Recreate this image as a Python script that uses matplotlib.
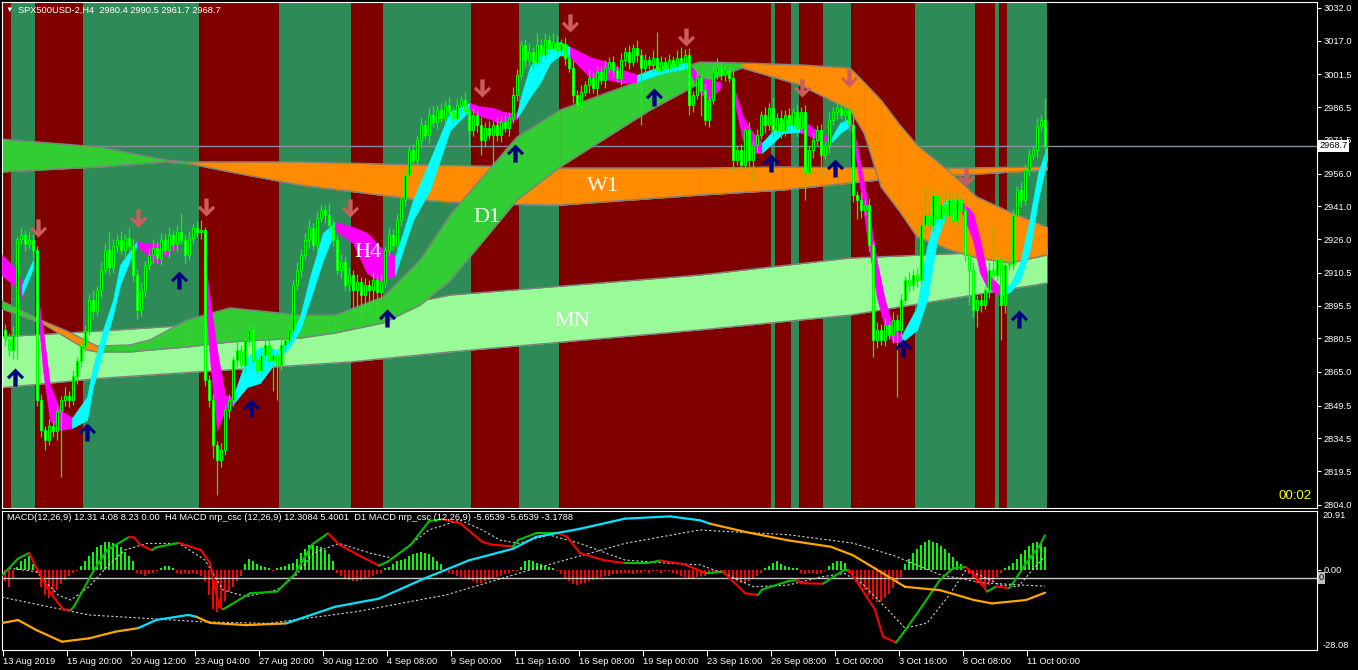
import numpy as np
import matplotlib
matplotlib.use("Agg")
import matplotlib.pyplot as plt
from matplotlib.path import Path
from matplotlib.transforms import blended_transform_factory


#######################################################
### Data (x = H4 bar index, 0 = 13 Aug 2019)

opens = [
    2884.3, 2880.0, 2875.0, 2882.0, 2926.0, 2928.0, 2923.5, 2925.6, 2921.0, 2852.0,
    2838.4, 2834.0, 2840.0, 2838.0, 2847.0, 2852.0, 2854.0, 2852.0, 2863.0, 2870.0,
    2877.0, 2884.0, 2898.0, 2893.0, 2902.6, 2912.0, 2921.0, 2913.0, 2923.0, 2925.6,
    2921.0, 2926.5, 2923.0, 2909.6, 2893.4, 2902.6, 2914.0, 2918.7, 2922.0, 2917.3,
    2925.6, 2921.0, 2928.0, 2923.5, 2929.3, 2925.6, 2918.7, 2926.5, 2931.0, 2929.3,
    2930.0, 2861.3, 2852.0, 2831.5, 2824.6, 2829.0, 2847.6, 2852.0, 2870.5, 2875.0,
    2868.0, 2879.7, 2884.3, 2870.5, 2866.0, 2872.8, 2877.4, 2870.5, 2872.8, 2868.2,
    2877.4, 2879.7, 2884.3, 2905.0, 2911.8, 2918.7, 2925.6, 2931.0, 2923.3, 2935.7,
    2939.3, 2937.0, 2932.4, 2925.6, 2911.8, 2915.5, 2905.0, 2909.6, 2902.6, 2906.3,
    2900.3, 2905.0, 2902.6, 2907.2, 2901.7, 2906.3, 2921.0, 2928.0, 2923.3, 2934.7,
    2944.0, 2955.4, 2966.8, 2962.3, 2971.4, 2978.3, 2973.7, 2982.9, 2979.7, 2985.2,
    2981.6, 2987.5, 2984.3, 2981.6, 2987.5, 2989.8, 2985.2, 2976.0, 2982.9, 2978.3,
    2971.4, 2977.0, 2973.7, 2978.3, 2973.7, 2979.7, 2977.0, 2981.6, 2992.1, 3001.3,
    3015.0, 3008.0, 3011.8, 3007.2, 3015.0, 3010.5, 3017.3, 3013.7, 3016.4, 3012.7,
    3015.5, 3009.0, 3004.5, 2992.1, 2987.5, 2993.5, 2996.7, 3000.0, 2995.3, 3002.7,
    2999.0, 3004.5, 3007.2, 3003.5, 3000.0, 3008.0, 3011.8, 3007.2, 3013.7, 3010.5,
    3004.5, 3008.0, 3005.9, 3009.1, 3003.5, 3007.2, 3004.5, 3008.0, 3005.4, 3009.1,
    3007.2, 3010.5, 2987.5, 2992.1, 3000.0, 2994.4, 2980.6, 2989.8, 3002.7, 3004.5,
    3001.3, 3003.5, 3000.0, 2962.3, 2966.8, 2960.0, 2976.0, 2962.3, 2969.0, 2973.7,
    2982.9, 2978.3, 2986.1, 2976.0, 2981.6, 2976.0, 2982.9, 2978.3, 2984.3, 2977.0,
    2984.3, 2956.8, 2966.8, 2971.4, 2976.0, 2964.5, 2969.0, 2980.6, 2984.3, 2986.1,
    2982.9, 2985.2, 2978.3, 2946.2, 2944.0, 2939.3, 2941.6, 2923.3, 2879.7, 2884.3,
    2879.7, 2886.6, 2882.0, 2888.9, 2884.3, 2898.0, 2907.2, 2905.0, 2909.6, 2907.2,
    2932.4, 2937.0, 2932.4, 2946.2, 2935.7, 2941.6, 2937.0, 2944.0, 2934.7, 2944.0,
    2939.3, 2918.7, 2911.8, 2893.4, 2898.0, 2895.7, 2902.6, 2911.8, 2909.6, 2916.4,
    2895.7, 2914.1, 2914.6, 2937.0, 2948.5, 2944.0, 2957.7, 2964.5, 2966.8, 2978.0,
    2980.4,
]

closes = [
    2880.0, 2875.0, 2882.0, 2926.0, 2928.0, 2923.5, 2925.6, 2921.0, 2852.0, 2838.4,
    2834.0, 2840.0, 2838.0, 2847.0, 2852.0, 2854.0, 2852.0, 2863.0, 2870.0, 2877.0,
    2884.0, 2898.0, 2893.0, 2902.6, 2912.0, 2921.0, 2913.0, 2923.0, 2925.6, 2921.0,
    2926.5, 2923.0, 2909.6, 2893.4, 2902.6, 2914.0, 2918.7, 2922.0, 2917.3, 2925.6,
    2921.0, 2928.0, 2923.5, 2929.3, 2925.6, 2918.7, 2926.5, 2931.0, 2929.3, 2930.0,
    2861.3, 2852.0, 2831.5, 2824.6, 2829.0, 2847.6, 2852.0, 2870.5, 2875.0, 2868.0,
    2879.7, 2884.3, 2870.5, 2866.0, 2872.8, 2877.4, 2870.5, 2872.8, 2868.2, 2877.4,
    2879.7, 2884.3, 2905.0, 2911.8, 2918.7, 2925.6, 2931.0, 2923.3, 2935.7, 2939.3,
    2937.0, 2932.4, 2925.6, 2911.8, 2915.5, 2905.0, 2909.6, 2902.6, 2906.3, 2900.3,
    2905.0, 2902.6, 2907.2, 2901.7, 2906.3, 2921.0, 2928.0, 2923.3, 2934.7, 2944.0,
    2955.4, 2966.8, 2962.3, 2971.4, 2978.3, 2973.7, 2982.9, 2979.7, 2985.2, 2981.6,
    2987.5, 2984.3, 2981.6, 2987.5, 2989.8, 2985.2, 2976.0, 2982.9, 2978.3, 2971.4,
    2977.0, 2973.7, 2978.3, 2973.7, 2979.7, 2977.0, 2981.6, 2992.1, 3001.3, 3015.0,
    3008.0, 3011.8, 3007.2, 3015.0, 3010.5, 3017.3, 3013.7, 3016.4, 3012.7, 3015.5,
    3009.0, 3004.5, 2992.1, 2987.5, 2993.5, 2996.7, 3000.0, 2995.3, 3002.7, 2999.0,
    3004.5, 3007.2, 3003.5, 3000.0, 3008.0, 3011.8, 3007.2, 3013.7, 3010.5, 3004.5,
    3008.0, 3005.9, 3009.1, 3003.5, 3007.2, 3004.5, 3008.0, 3005.4, 3009.1, 3007.2,
    3010.5, 2987.5, 2992.1, 3000.0, 2994.4, 2980.6, 2989.8, 3002.7, 3004.5, 3001.3,
    3003.5, 3000.0, 2962.3, 2966.8, 2960.0, 2976.0, 2962.3, 2969.0, 2973.7, 2982.9,
    2978.3, 2986.1, 2976.0, 2981.6, 2976.0, 2982.9, 2978.3, 2984.3, 2977.0, 2984.3,
    2956.8, 2966.8, 2971.4, 2976.0, 2964.5, 2969.0, 2980.6, 2984.3, 2986.1, 2982.9,
    2985.2, 2978.3, 2946.2, 2944.0, 2939.3, 2941.6, 2923.3, 2879.7, 2884.3, 2879.7,
    2886.6, 2882.0, 2888.9, 2884.3, 2898.0, 2907.2, 2905.0, 2909.6, 2907.2, 2932.4,
    2937.0, 2932.4, 2946.2, 2935.7, 2941.6, 2937.0, 2944.0, 2934.7, 2944.0, 2939.3,
    2918.7, 2911.8, 2893.4, 2898.0, 2895.7, 2902.6, 2911.8, 2909.6, 2916.4, 2895.7,
    2914.1, 2914.6, 2937.0, 2948.5, 2944.0, 2957.7, 2964.5, 2966.8, 2978.0, 2980.4,
    2968.7,
]

# wick length above / below the candle body
upper_wick = [
    2.5, 3.0, 4.0, 1.0, 3.5, 2.0, 4.0, 2.5, 2.0, 3.0,
    2.0, 3.5, 2.5, 3.0, 2.0, 4.0, 2.5, 3.0, 2.0, 3.5,
    2.5, 3.0, 4.5, 2.0, 3.5, 2.5, 8.2, 3.0, 2.5, 4.0,
    2.0, 4.5, 3.0, 2.5, 3.5, 2.0, 3.0, 4.0, 2.5, 3.0,
    2.5, 3.5, 2.0, 3.0, 8.7, 2.5, 3.0, 2.0, 3.5, 4.7,
    1.5, 2.5, 3.0, 2.0, 3.5, 2.5, 3.0, 2.0, 4.0, 2.5,
    3.0, 2.5, 3.5, 2.0, 3.0, 4.0, 2.5, 3.0, 2.0, 3.5,
    2.5, 3.0, 2.0, 3.5, 2.5, 3.0, 4.0, 2.5, 3.0, 3.0,
    2.5, 5.5, 3.0, 2.0, 3.5, 2.5, 3.0, 2.0, 3.5, 2.5,
    3.0, 2.0, 3.5, 2.5, 3.0, 2.0, 3.5, 2.5, 3.0, 2.0,
    3.5, 2.5, 3.0, 2.0, 3.5, 2.5, 3.0, 4.0, 2.5, 3.0,
    2.0, 3.5, 2.5, 3.0, 2.0, 3.5, 2.5, 3.0, 2.0, 3.5,
    2.5, 3.0, 2.0, 3.5, 2.5, 3.0, 2.0, 3.5, 2.5, 2.0,
    3.0, 4.0, 2.5, 5.5, 3.0, 3.0, 2.5, 4.0, 3.0, 2.5,
    3.0, 2.0, 3.5, 2.5, 3.0, 2.0, 3.5, 2.5, 3.0, 2.0,
    3.5, 2.5, 3.0, 2.0, 3.5, 2.5, 3.0, 2.0, 3.5, 2.5,
    3.0, 2.0, 3.5, 12.0, 3.0, 2.5, 3.0, 2.0, 3.5, 5.0,
    2.5, 3.0, 2.0, 3.5, 2.5, 3.0, 2.0, 3.5, 4.5, 2.5,
    3.0, 2.0, 3.5, 2.5, 3.0, 2.0, 3.5, 2.5, 3.0, 2.0,
    3.5, 2.5, 5.0, 2.0, 3.5, 2.5, 3.0, 2.0, 3.5, 2.5,
    3.0, 2.0, 3.5, 2.5, 3.0, 2.0, 3.5, 2.5, 3.0, 2.0,
    3.5, 2.5, 8.0, 2.0, 3.5, 2.5, 3.0, 2.0, 3.5, 2.5,
    3.0, 2.0, 3.5, 2.5, 3.0, 2.0, 3.5, 2.5, 3.0, 2.0,
    13.8, 2.5, 3.0, 2.0, 3.5, 7.0, 3.0, 2.0, 3.5, 2.5,
    3.0, 2.0, 3.5, 2.5, 3.0, 2.0, 3.5, 20.6, 3.0, 2.0,
    3.5, 2.5, 3.0, 2.0, 3.5, 2.5, 3.0, 2.0, 3.5, 2.5,
    10.1,
]

lower_wick = [
    3.0, 2.5, 4.0, 11.0, 2.5, 3.0, 2.0, 3.5, 2.5, 3.0,
    5.0, 2.5, 3.0, 4.0, 30.0, 2.5, 3.0, 2.0, 3.5, 2.5,
    3.0, 2.0, 3.5, 2.5, 3.0, 2.0, 3.5, 2.5, 3.0, 2.0,
    3.5, 2.5, 3.0, 4.0, 2.5, 3.0, 2.0, 3.5, 2.5, 3.0,
    2.0, 3.5, 2.5, 3.0, 2.0, 3.5, 2.5, 3.0, 2.0, 3.5,
    2.5, 3.0, 6.0, 16.0, 3.0, 2.0, 3.5, 2.5, 3.0, 2.0,
    3.5, 2.5, 3.0, 2.0, 3.5, 2.5, 3.0, 14.0, 16.0, 2.5,
    3.0, 2.0, 3.5, 2.5, 3.0, 2.0, 3.5, 2.5, 3.0, 2.0,
    3.5, 2.5, 3.0, 2.0, 3.5, 2.5, 3.0, 10.0, 8.0, 12.0,
    9.0, 11.0, 8.0, 13.0, 3.0, 2.5, 3.0, 2.0, 3.5, 2.5,
    3.0, 2.0, 3.5, 2.5, 3.0, 2.0, 3.5, 2.5, 3.0, 2.0,
    3.5, 2.5, 3.0, 2.0, 3.5, 2.5, 7.7, 2.5, 3.0, 6.8,
    3.0, 2.0, 14.7, 2.5, 3.0, 2.0, 3.5, 2.5, 3.0, 2.0,
    3.5, 2.5, 3.0, 2.0, 3.5, 2.5, 3.0, 2.0, 3.5, 2.5,
    3.0, 2.0, 3.5, 2.5, 3.0, 2.0, 3.5, 2.5, 3.0, 2.0,
    3.5, 2.5, 3.0, 2.0, 3.5, 2.5, 3.0, 2.0, 3.5, 26.0,
    3.0, 2.0, 3.5, 2.5, 3.0, 2.0, 3.5, 2.5, 3.0, 2.0,
    3.5, 4.5, 3.0, 2.0, 12.0, 2.5, 3.0, 2.0, 3.5, 2.5,
    3.0, 2.0, 6.0, 2.5, 2.3, 2.0, 3.5, 10.0, 3.0, 2.0,
    3.5, 2.5, 3.0, 2.0, 3.5, 2.5, 3.0, 2.0, 3.5, 2.5,
    13.0, 2.0, 3.5, 2.5, 11.0, 2.0, 3.5, 2.5, 3.0, 2.0,
    3.5, 2.5, 3.0, 9.0, 3.5, 2.5, 3.0, 7.8, 3.5, 2.5,
    3.0, 2.0, 3.5, 31.0, 3.0, 2.0, 3.5, 2.5, 3.0, 2.0,
    3.5, 2.5, 3.0, 2.0, 3.5, 2.5, 3.0, 2.0, 3.5, 2.5,
    3.0, 16.0, 3.5, 7.8, 3.0, 2.0, 3.5, 2.5, 3.0, 16.0,
    3.5, 2.5, 3.0, 2.0, 3.5, 2.5, 3.0, 2.0, 3.5, 2.5,
    7.0,
]

# background trend stripes: edges in bar units, colours alternate red / green
stripe_edges = [-0.75, 1.5, 7.5, 19.5, 48.5, 68.5, 86.5, 94.5, 116.5, 128.5,
                138.5, 191.5, 192.5, 196.5, 198.5, 204.5, 211.5, 227.5, 242.5,
                247.5, 248.5, 250.5, 260.5]

# MN band (monthly)
mn_bar = [-1.25, 24.5, 86.25, 111.25, 173.75, 211.25, 260.5]
mn_top = [2881.1, 2883.9, 2891.1, 2900.3, 2909.5, 2917.3, 2921.0]
mn_bot = [2857.7, 2862.2, 2869.6, 2874.2, 2884.3, 2891.1, 2905.8]

# W1 band (weekly), direction per segment: u = rising, d = falling
w1_bar = [-1.25, 23.75, 40, 46.25, 56.25, 73.75, 103.75, 118.75, 138.75,
          173.75, 194.5, 218.5, 238.75, 260.5]
w1_top = [2971.9, 2968.2, 2962.3, 2961.4, 2961.4, 2961.4, 2960.0, 2959.5,
          2958.6, 2958.6, 2959.1, 2958.6, 2958.6, 2959.1]
w1_bot = [2956.8, 2959.1, 2961.4, 2960.5, 2956.8, 2950.8, 2943.9, 2942.1,
          2941.6, 2946.2, 2948.5, 2953.1, 2955.4, 2957.7]
w1_dir = "uuudddddddddd"

# D1 band (daily)
d1_bar = [-1.25, 9.5, 15.5, 20.5, 23, 31.25, 36.25, 45.5, 56.25, 73.75, 82.5,
          94.5, 103.75, 111.25, 128, 138.75, 161.25, 173.75, 184.25, 198.75,
          211.25, 214.75, 219, 223.75, 228, 236.25, 243, 251.25, 260.5]
d1_top = [2898.0, 2888.4, 2883.8, 2879.2, 2876.9, 2877.4, 2879.7, 2888.9,
          2894.4, 2891.1, 2891.1, 2899.4, 2916.4, 2937.0, 2972.8, 2985.2,
          3000.3, 3007.2, 3006.8, 3005.9, 3004.5, 2998.0, 2989.8, 2978.3,
          2969.2, 2956.8, 2945.3, 2938.4, 2931.5]
d1_bot = [2894.3, 2887.0, 2880.6, 2875.1, 2874.2, 2874.2, 2875.1, 2876.5,
          2878.8, 2880.6, 2882.9, 2887.5, 2895.7, 2906.9, 2943.9, 2959.1,
          2985.2, 2997.6, 3004.5, 2996.7, 2985.2, 2974.6, 2949.9, 2938.4,
          2927.0, 2921.0, 2917.3, 2915.0, 2918.7]
d1_dir = "udddu" + "uuuuuuuuuuuuu" + "dddddddddd"

# H4 band: knots grouped into segments, each segment has one colour
h4_seg = [0, 0, 0,
          1, 1,
          2, 2, 2, 2, 2,
          3, 3, 3, 3, 3, 3, 3, 3,
          4, 4, 4, 4, 4,
          5, 5, 5, 5, 5,
          6, 6, 6, 6, 6, 6, 6, 6, 6,
          7, 7, 7, 7, 7,
          8, 8, 8, 8, 8, 8,
          9, 9, 9, 9, 9,
          10, 10, 10, 10, 10, 10, 10,
          11, 11, 11, 11, 11,
          12, 12, 12, 12,
          13, 13, 13, 13,
          14, 14, 14, 14,
          15, 15, 15,
          16, 16, 16,
          17, 17, 17,
          18, 18, 18, 18, 18, 18, 18,
          19, 19, 19, 19, 19, 19,
          20, 20, 20, 20, 20,
          21, 21, 21, 21, 21, 21]
h4_bar = [-0.75, 3, 4.25,
          4.25, 7,
          8, 9.5, 11.25, 13.75, 16.75,
          16.75, 20.5, 22, 24.5, 27, 28.75, 32, 33,
          33, 34.25, 38, 41.25, 43,
          49.75, 51.25, 53, 55, 57,
          57, 60.5, 63.75, 68, 71.25, 73.75, 76.25, 79.5, 82.5,
          82.5, 87, 90.5, 93.75, 97.5,
          97.5, 99.5, 102, 106.25, 111.25, 116.25,
          116.25, 118.25, 122, 124.5, 128,
          128, 129.25, 131.25, 133.75, 136.25, 138.75, 141.25,
          141.25, 146.25, 151.25, 154.5, 158,
          158, 161.25, 165.5, 170.75,
          170.75, 173.75, 176.25, 178.75,
          182, 184.5, 187, 189.25,
          189.25, 194.5, 198.75,
          198.75, 203.75, 206.75,
          206.75, 208.75, 211.25,
          211.25, 213, 215.5, 218, 220, 222, 224.25,
          224.25, 228, 230.5, 233, 235.5, 238.75,
          238.75, 242, 243.75, 245.5, 248.75,
          248.75, 251.25, 253.75, 256.25, 258.25, 260.5]
h4_top = [2918.7, 2911.8, 2905.8,
          2904.9, 2916.4,
          2901.7, 2884.3, 2859.0, 2847.6, 2843.9,
          2843.9, 2853.5, 2867.3, 2884.3, 2898.0, 2914.1, 2922.4, 2925.1,
          2925.1, 2924.2, 2924.2, 2924.2, 2924.2,
          2919.6, 2898.0, 2875.1, 2854.4, 2853.5,
          2853.5, 2871.9, 2876.5, 2875.1, 2880.6, 2890.2, 2908.6, 2928.8, 2933.8,
          2933.8, 2931.5, 2928.8, 2922.4, 2917.8,
          2917.8, 2928.8, 2943.9, 2962.3, 2984.3, 2988.4,
          2988.4, 2987.0, 2986.1, 2984.3, 2983.8,
          2983.8, 2993.0, 3005.0, 3011.4, 3014.1, 3016.4, 3014.1,
          3014.1, 3009.5, 3006.8, 3003.6, 3001.3,
          3001.3, 3003.6, 3005.9, 3007.2,
          3007.2, 3000.3, 2999.0, 2998.1,
          2996.7, 2982.0, 2974.6, 2970.1,
          2970.1, 2980.6, 2981.5,
          2981.5, 2974.6, 2972.8,
          2972.8, 2979.2, 2981.5,
          2981.5, 2969.2, 2943.9, 2915.5, 2898.0, 2885.2, 2882.0,
          2882.0, 2894.8, 2922.4, 2939.3, 2943.9, 2943.9,
          2943.9, 2938.0, 2925.6, 2910.4, 2904.5,
          2904.5, 2904.9, 2915.0, 2936.1, 2956.3, 2968.2]
h4_bot = [2909.5, 2903.5, 2898.9,
          2900.3, 2912.7,
          2897.1, 2865.9, 2843.0, 2838.4, 2839.3,
          2839.3, 2843.0, 2858.1, 2875.1, 2891.1, 2904.9, 2920.1, 2922.8,
          2922.8, 2921.0, 2915.0, 2920.1, 2922.4,
          2908.6, 2870.5, 2838.4, 2847.6, 2850.3,
          2850.3, 2858.1, 2860.0, 2870.5, 2876.5, 2884.3, 2898.0, 2916.4, 2930.1,
          2930.1, 2924.2, 2910.4, 2906.3, 2909.5,
          2909.5, 2921.0, 2934.7, 2948.5, 2976.0, 2985.2,
          2985.2, 2982.9, 2980.6, 2977.4, 2981.5,
          2981.5, 2985.2, 2991.2, 2997.6, 3006.8, 3010.4, 3009.5,
          3009.5, 3000.3, 2999.0, 2997.6, 2998.1,
          2998.1, 3000.3, 3002.6, 3004.5,
          3004.5, 2993.0, 2989.8, 2995.3,
          2992.1, 2971.4, 2965.5, 2965.5,
          2965.5, 2974.6, 2975.1,
          2975.1, 2971.4, 2970.5,
          2970.5, 2974.6, 2977.9,
          2977.9, 2960.0, 2927.9, 2898.9, 2885.6, 2878.8, 2878.8,
          2878.8, 2884.3, 2898.0, 2925.6, 2938.0, 2940.7,
          2940.7, 2925.6, 2910.4, 2904.0, 2899.9,
          2899.9, 2901.7, 2907.2, 2921.0, 2943.9, 2962.3]
h4_seg_dir = "mcmcmmcmcmcmcmmcmcmcmc"

# signal arrows
buy_bar = [2.5, 20.5, 43.5, 61.5, 95.5, 127.5, 162.25, 191.5, 207.5, 224.5, 253.5]
buy_price = [2862.9, 2837.5, 2907.2, 2848.5, 2889.8, 2965.5, 2991.2, 2960.9,
             2958.6, 2876.0, 2889.3]
sell_bar = [8.25, 33.25, 50.25, 86.25, 119.25, 141.25, 170.25, 199.25, 211, 240.25]
sell_price = [2931.1, 2935.7, 2940.7, 2940.3, 2995.3, 3025.1, 3018.7, 2995.3,
              2999.9, 2954.5]

band_labels = ["H4", "D1", "W1", "MN"]
band_label_bar = [90.75, 120.5, 149.5, 141.75]
band_label_price = [2919.6, 2936.1, 2950.3, 2888.0]

last_price = 2968.7
price_ticks = [3032.0, 3017.0, 3001.5, 2986.5, 2971.5, 2956.0, 2941.0, 2926.0,
               2910.5, 2895.5, 2880.5, 2865.0, 2849.5, 2834.5, 2819.5, 2804.0]

time_tick_bar = [-0.5, 15.5, 31.5, 47.5, 63.5, 79.5, 95.5, 111.5, 127.5, 143.5,
                 159.5, 175.5, 191.5, 207.5, 223.5, 239.5, 255.5]
time_labels = ["13 Aug 2019", "15 Aug 20:00", "20 Aug 12:00", "23 Aug 04:00",
               "27 Aug 20:00", "30 Aug 12:00", "4 Sep 08:00", "9 Sep 00:00",
               "11 Sep 16:00", "16 Sep 08:00", "19 Sep 00:00", "23 Sep 16:00",
               "26 Sep 08:00", "1 Oct 00:00", "3 Oct 16:00", "8 Oct 08:00",
               "11 Oct 00:00"]

# MACD(12,26,9) histogram, one value per bar
macd_hist = [
    -4, -6, -3,
    1, 3, 4, 5, 2,
    -1, -6, -9, -10, -9, -7, -5, -3.5, -2,
    -1, -0.5,
    1.5, 3, 5, 6.5, 8, 9, 10, 10, 9.5, 9, 8, 6.5, 5, 3,
    -1, -1.5, -2, -1.5, -1, -0.5,
    0.5, 1.5, 1.5, 0.5,
    -1, -1.5, -1, -1.5, -1, -1.5, -2,
    -4, -9, -14, -15, -13, -11, -8, -6, -4, -2,
    2, 4, 3, 2, 1.5, 1, 0.5,
    -0.5, 0.5,
    1, 1.5, 2, 2.5,
    4, 6, 7.5, 9, 9, 8.5, 8, 7, 5.5, 3,
    -1, -2, -3, -3.5, -4, -4, -3.5, -3, -2.5, -2, -1.5, -1,
    0.5, 1, 2, 3, 3.5, 4, 5, 5.5, 6, 6.5, 6, 5.5, 4.5, 3, 2,
    -0.5, -1, -1.5, -2, -2.5, -3, -3.5, -4, -4.5, -4.5, -4, -3.5, -3, -2.5,
    -2, -1.5, -1, -0.5, -0.3,
    1, 3, 3.5, 3, 2.5, 2, 1.5, 1, 0.5,
    -0.5, -1.5, -3, -4, -5, -5.5, -5, -4.5, -4, -3.5, -3, -2.5, -2, -2, -1.5,
    -1.5, -1, -1, -1, -1.5, -1, -1, -0.5, -1, -0.5, -0.5, -1, -0.5, -0.5, -1, -1.5,
    -2, -2.5, -3, -3, -2.5, -2, -2, -1.5, -1.5, -1, -1, -1.5,
    -2, -3, -4, -4.5, -4.5, -4, -3, -2, -1,
    0.5, 1.5, 2.5, 3, 2, 1.5, 1, 0.5, 0.5,
    -1, -1.5, -1, -1, -1.5, -1, -0.5,
    1.5, 2.5, 3, 3, 2.5,
    -1, -2, -4, -5.5, -7, -9, -10.5, -11.5, -11, -10, -8.5, -6.5, -4.5, -2.5,
    2, 4, 6, 7.5, 9, 10, 10.5, 10, 9.5, 8.5, 7.5, 6, 4.5, 3, 2,
    -0.5, -1.5, -3, -4.5, -5.5, -6, -5.5, -4, -2.5, -1,
    0.5, 1.5, 2.5, 4, 5.5, 7, 8.5, 9.5, 10, 9.5, 8.2,
]

# H4 MACD nrp line and its signal
h4_macd_bar = [-0.75, 3.25, 6, 7.75, 11.25, 14.5, 16.5, 17.25, 22.25, 25.5, 31,
               32.25, 33.75, 36.75, 37.75, 43.5, 49, 51.25, 53.5, 54.5, 61.25,
               68, 72.5, 76.75, 80.75, 83.5, 88, 93.5, 95.75, 101.5, 106, 109.25,
               113.75, 114.75, 119.25, 121.5, 127, 128.25, 132.75, 138.25, 140.5,
               143.75, 149.5, 155, 160.5, 163.75, 169.75, 175.25, 179.5, 185,
               188.25, 189.25, 195.75, 198, 199, 204.5, 209.75, 211, 214.25,
               217.5, 219.5, 222.75, 224.5, 229.25, 233.75, 237, 240.25, 243.5,
               245.5, 247.75, 251, 252, 255.25, 258.5, 260]
h4_macd_val = [-2, 4, 6, 1, -8, -14, -14.2, -13, 0, 7, 11.7, 11.5, 9, 7, 8, 9.6,
               7, 2.4, -13, -14, -8.3, -7.7, -1.4, 9, 13, 9, 5.5, 1.5, 3, 9,
               17.3, 18, 16.6, 15.4, 10, 9, 8.3, 10.6, 13, 13, 11.8, 6, 3.5,
               2.4, 2.4, 3.3, 2.0, -1.2, -0.6, -8.3, -8.9, -7, -4, -3.6, -4.7,
               -4.9, 0, 0, -7, -14.2, -23.7, -25.8, -22.5, -13, -3.5, 0.6, 1,
               -3.5, -7.7, -5.9, -6.5, -4.7, 2.4, 8.3, 12.3]
h4_sig_bar = [1, 7.75, 13.25, 16.5, 21, 25.5, 30, 35.5, 43.5, 50, 54.5, 60.25,
              68, 72.5, 77, 83.5, 91.5, 97, 106, 113.75, 119.25, 123.75, 128.25,
              136, 143.75, 155, 166.25, 173.75, 179.5, 187.25, 195.75, 204.5,
              209.75, 214.25, 220.75, 225, 230.5, 235.75, 240.25, 244.5, 248.75,
              253.25, 257.5, 260]
h4_sig_val = [0.6, -0.6, -8.9, -10.7, -6, 1.1, 7.1, 9.4, 9.4, 3.5, -7.1, -9.5,
              -7.1, -2.4, 5.9, 9.4, 5.9, 4.1, 14.2, 17.7, 14.2, 10.6, 9.4, 12.4,
              9.4, 3.5, 2.3, 1.8, -1.2, -6, -5.4, -2.4, -1.2, -4.8, -14.2, -20.7,
              -18.9, -9.5, 0, -2.4, -5.4, -6, 1.1, 4.7]

# D1 MACD nrp line (c = cyan rising, o = orange falling) and its signal
d1_macd_bar = [-1.25, 3.25, 7.75, 14.25, 21, 27.75, 33.25, 37.75, 45.75, 47.75,
               51.25, 60.25, 70.25, 82.5, 93.5, 104.75, 116, 127, 132.75, 143.75,
               155, 166.25, 173.75, 176.25, 185, 195.75, 206.5, 212, 217.5, 225,
               233.75, 242.25, 246.75, 255.25, 260]
d1_macd_val = [-19, -17.8, -21.3, -25.5, -24.3, -21.9, -20.7, -17.8, -16, -16.6,
               -18.8, -19.6, -19, -13.1, -10.2, -3.1, 3.4, 7.5, 11.7, 14.6, 18.2,
               19, 17.6, 16.4, 13.5, 10.5, 8.2, 5.2, 0.5, -6, -7.2, -10.7, -11.9,
               -10.7, -8.1]
d1_macd_col = "oooooo" + "ccc" + "ooo" + "ccccccccccc" + "ooooooooooo"
d1_sig_bar = [-0.75, 21, 49, 65.75, 88, 110.25, 132.75, 155, 173.75, 179.5,
              195.75, 212, 222.75, 233.75, 244.5, 260]
d1_sig_val = [-9.7, -16, -18.4, -19, -14.8, -8.9, 0.6, 9.4, 14.2, 13.7, 12.5,
              9.5, 4.8, -1.7, -4.6, -5.8]

macd_level = -2.84


#######################################################
### Colours

RED_BG = "#800000"
GREEN_BG = "#2E8B57"
RISE = "#32CD32"
FALL = "#FF8C00"
MN_COL = "#98FB98"
EDGE = "#808080"
LIME = "#00FF00"

plt.rcParams["font.family"] = ["Liberation Sans", "DejaVu Sans"]


#######################################################
### Helpers

def arrow_marker(up=True):
    pts = [(0, 1), (0.95, 0.05), (0.7, -0.2), (0.24, 0.28), (0.24, -1),
           (-0.24, -1), (-0.24, 0.28), (-0.7, -0.2), (-0.95, 0.05), (0, 1)]
    if not up:
        pts = [(x, -y) for x, y in pts]
    codes = [Path.MOVETO] + [Path.LINETO] * (len(pts) - 2) + [Path.CLOSEPOLY]
    return Path(pts, codes)


def draw_band(ax, xs, top, bot, dirs, z):
    for i in range(len(xs) - 1):
        col = RISE if dirs[i] == "u" else FALL
        ax.fill_between(xs[i:i + 2], bot[i:i + 2], top[i:i + 2],
                        facecolor=col, edgecolor=col, linewidth=0.4, zorder=z)
    ax.plot(xs, top, color=EDGE, lw=1.0, zorder=z + 0.1)
    ax.plot(xs, bot, color=EDGE, lw=1.0, zorder=z + 0.1)


def draw_h4(ax):
    seg = np.array(h4_seg)
    xs = np.array(h4_bar)
    top = np.array(h4_top)
    bot = np.array(h4_bot)
    for s, d in enumerate(h4_seg_dir):
        m = seg == s
        col = "#00FFFF" if d == "c" else "#FF00FF"
        ax.fill_between(xs[m], bot[m], top[m], facecolor=col, edgecolor=col,
                        linewidth=0.5, zorder=4)


def draw_candles(ax):
    o = np.array(opens)
    c = np.array(closes)
    x = np.arange(len(c))
    hi = np.maximum(o, c) + np.array(upper_wick)
    lo = np.minimum(o, c) - np.array(lower_wick)
    ax.vlines(x, lo, hi, color=LIME, lw=0.9, zorder=5)
    fill = np.where(c > o, "black", "white")
    ax.bar(x, c - o, bottom=o, width=0.72, color=fill, edgecolor=LIME,
           linewidth=0.75, zorder=6)


def style_frame(ax):
    ax.set_facecolor("black")
    for sp in ax.spines.values():
        sp.set_color("white")
        sp.set_linewidth(0.8)


#######################################################
### Main chart

fig = plt.figure(figsize=(13.58, 6.70), dpi=100, facecolor="black")
W, H = 1358.0, 670.0

ax = fig.add_axes([2 / W, 1 - 508 / H, 1315 / W, 506 / H])
style_frame(ax)
ax.set_xlim(-0.75, 328)
ax.set_ylim(2802.6, 3034.75)

for i in range(len(stripe_edges) - 1):
    ax.axvspan(stripe_edges[i], stripe_edges[i + 1],
               color=RED_BG if i % 2 == 0 else GREEN_BG, lw=0, zorder=0)

ax.axhline(last_price, color="#8090a0", lw=1, zorder=0.5)

ax.fill_between(mn_bar, mn_bot, mn_top, color=MN_COL, lw=0, zorder=1)
ax.plot(mn_bar, mn_top, color=EDGE, lw=1.0, zorder=1.1)
ax.plot(mn_bar, mn_bot, color=EDGE, lw=1.0, zorder=1.1)

draw_band(ax, w1_bar, w1_top, w1_bot, w1_dir, 2)
draw_band(ax, d1_bar, d1_top, d1_bot, d1_dir, 3)
draw_h4(ax)
draw_candles(ax)

ax.plot(buy_bar, buy_price, ls="none", marker=arrow_marker(True), ms=13,
        color="#000080", mew=0, zorder=8)
ax.plot(sell_bar, sell_price, ls="none", marker=arrow_marker(False), ms=13,
        color="#CD5C5C", mew=0, zorder=8)

for lab, bx, by in zip(band_labels, band_label_bar, band_label_price):
    ax.text(bx, by, lab, color="white", fontsize=16, family="Liberation Serif",
            ha="center", va="center", zorder=9)

ax.set_xticks([])
ax.yaxis.tick_right()
ax.set_yticks(price_ticks)
ax.set_yticklabels([f"{v:.1f}" for v in price_ticks])
ax.tick_params(axis="y", colors="white", labelsize=6.7, length=3, width=0.8, pad=2)

tr = blended_transform_factory(ax.transAxes, ax.transData)
ax.text(1.0016, last_price, f"{last_price:.1f}", transform=tr, color="black",
        fontsize=6.7, va="center", ha="left", zorder=20, clip_on=False,
        bbox=dict(facecolor="white", edgecolor="none", pad=1.2))

fig.text(9.5 / W, 1 - 10 / H, "\u25bc", color="white", fontsize=5.5,
         ha="center", va="center")
fig.text(18 / W, 1 - 10 / H, "SPX500USD-2,H4  2980.4 2990.5 2961.7 2968.7",
         color="white", fontsize=6.7, ha="left", va="center")
fig.text(1312 / W, 1 - 496 / H, "00:02", color="yellow", fontsize=9.5,
         ha="right", va="center")


#######################################################
### MACD window

ax2 = fig.add_axes([2 / W, 1 - 650 / H, 1315 / W, 139 / H])
style_frame(ax2)
ax2.set_xlim(-0.75, 328)
ax2.set_ylim(-28.44, 20.91)

hx = np.arange(len(macd_hist))
ax2.bar(hx, macd_hist, width=0.7,
        color=[LIME if v > 0 else "#FF0000" for v in macd_hist], lw=0, zorder=2)
ax2.axhline(macd_level, color="#c8c8c8", lw=1, zorder=3)

for i in range(len(h4_macd_bar) - 1):
    col = "#00C000" if h4_macd_val[i + 1] >= h4_macd_val[i] else "#FF0000"
    ax2.plot(h4_macd_bar[i:i + 2], h4_macd_val[i:i + 2], color=col, lw=1.5,
             solid_capstyle="round", zorder=5)
for i in range(len(d1_macd_bar) - 1):
    col = "#00E5FF" if d1_macd_col[i] == "c" else "#FFA500"
    ax2.plot(d1_macd_bar[i:i + 2], d1_macd_val[i:i + 2], color=col, lw=1.6,
             solid_capstyle="round", zorder=5)
ax2.plot(h4_sig_bar, h4_sig_val, color="#d0d0d0", lw=0.8, ls=(0, (2, 2)), zorder=4)
ax2.plot(d1_sig_bar, d1_sig_val, color="#d0d0d0", lw=0.8, ls=(0, (2, 2)), zorder=4)

ax2.yaxis.tick_right()
ax2.set_yticks([0])
ax2.set_yticklabels(["0.00"])
ax2.tick_params(axis="y", colors="white", labelsize=6.7, length=3, width=0.8, pad=2)
tr2 = blended_transform_factory(ax2.transAxes, ax2.transData)
ax2.text(1.0042, 20.91, "20.91", transform=tr2, color="white", fontsize=6.7,
         ha="left", va="top")
ax2.text(1.0042, -28.44, "-28.08", transform=tr2, color="white", fontsize=6.7,
         ha="left", va="bottom")
ax2.text(1.0016, macd_level, "0", transform=tr2, color="black", fontsize=6.7,
         ha="left", va="center", zorder=20, clip_on=False,
         bbox=dict(facecolor="#c0c0c0", edgecolor="none", pad=0.8))

ax2.set_xticks(time_tick_bar)
ax2.set_xticklabels(time_labels, ha="left")
ax2.tick_params(axis="x", colors="white", labelsize=6.7, length=4, width=0.8, pad=1)

fig.text(7 / W, 1 - 518 / H,
         "MACD(12,26,9) 12.31 4.08 8.23 0.00  H4 MACD nrp_csc (12,26,9) 12.3084 "
         "5.4001  D1 MACD nrp_csc (12,26,9) -5.6539 -5.6539 -3.1788",
         color="white", fontsize=6.7, ha="left", va="center", zorder=10)

fig.savefig("out.png", dpi=100, facecolor="black")
